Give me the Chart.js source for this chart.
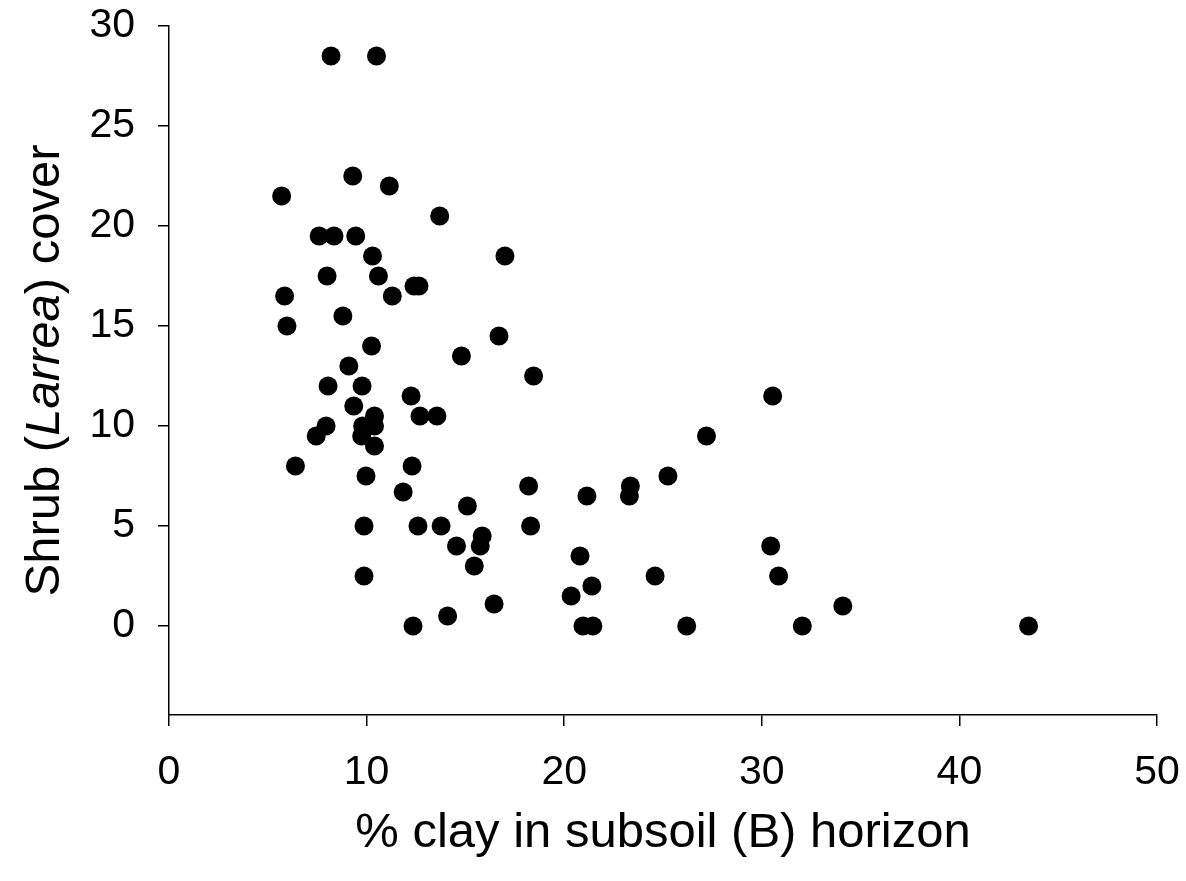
<!DOCTYPE html>
<html>
<head>
<meta charset="utf-8">
<script src="https://cdn.jsdelivr.net/npm/chart.js@4"></script>
<style>
  html, body { margin: 0; padding: 0; background: #fff; }
  #wrap { width: 1186px; height: 881px; }
</style>
</head>
<body>
<div id="wrap"><canvas id="c" width="1186" height="881"></canvas></div>
<script>
// % clay in subsoil (B) horizon
const clayPct = [
  8.2, 10.5, 5.7, 9.3, 11.15, 13.7, 7.6, 8.35, 9.45, 10.3,
  17.0, 8.0, 10.6, 12.4, 12.65, 5.85, 11.3, 5.97, 8.8, 10.25,
  16.7, 14.8, 9.1, 18.45, 8.05, 9.77, 12.25, 30.55, 9.35, 10.4,
  12.7, 13.56, 7.95, 9.8, 10.4, 7.45, 9.75, 27.2, 10.4, 6.4,
  12.3, 9.97, 25.25, 18.2, 23.35, 11.85, 21.15, 23.3, 15.1, 9.87,
  12.6, 13.77, 18.3, 15.85, 14.55, 15.75, 30.45, 20.8, 15.45, 9.87,
  24.6, 30.85, 21.4, 20.35, 16.45, 34.1, 14.1, 12.35, 20.95, 21.45,
  26.2, 32.05, 43.5
];
// Shrub (Larrea) cover
const shrubCover = [
  28.5, 28.5, 21.5, 22.5, 22, 20.5, 19.5, 19.5, 19.5, 18.5,
  18.5, 17.5, 17.5, 17, 17, 16.5, 16.5, 15, 15.5, 14,
  14.5, 13.5, 13, 12.5, 12, 12, 11.5, 11.5, 11, 10.5,
  10.5, 10.5, 10, 10, 10, 9.5, 9.5, 9.5, 9, 8,
  8, 7.5, 7.5, 7, 7, 6.7, 6.5, 6.5, 6, 5,
  5, 5, 5, 4.5, 4, 4, 4, 3.5, 3, 2.5,
  2.5, 2.5, 2, 1.5, 1.1, 1, 0.5, 0, 0, 0,
  0, 0, 0
];
const xTicks = [0, 10, 20, 30, 40, 50];
const yTicks = [0, 5, 10, 15, 20, 25, 30];
const xTitle = "% clay in subsoil (B) horizon";
const yTitleParts = ["Shrub (", "Larrea", ") cover"];

const FONT = "'Liberation Sans', Arial, Helvetica, sans-serif";
const points = clayPct.map((x, i) => ({ x: x, y: shrubCover[i] }));

const yTitlePlugin = {
  id: 'yTitle',
  afterDraw(chart) {
    const ctx = chart.ctx;
    const area = chart.chartArea;
    const size = 49;
    const normal = `normal ${size}px ${FONT}`;
    const italic = `italic ${size}px ${FONT}`;
    const fonts = [normal, italic, normal];
    let widths = yTitleParts.map((t, i) => { ctx.font = fonts[i]; return ctx.measureText(t).width; });
    const total = widths.reduce((a, b) => a + b, 0);
    ctx.save();
    ctx.translate(45, (area.top + area.bottom) / 2);
    ctx.rotate(-Math.PI / 2);
    ctx.fillStyle = '#000';
    ctx.textBaseline = 'middle';
    ctx.textAlign = 'left';
    let x = -total / 2;
    yTitleParts.forEach((t, i) => {
      ctx.font = fonts[i];
      ctx.fillText(t, x, 0);
      x += widths[i];
    });
    ctx.restore();
  }
};

function zeroPad(scale) {
  scale.paddingTop = 0; scale.paddingBottom = 0;
  scale.paddingLeft = 0; scale.paddingRight = 0;
}

new Chart(document.getElementById('c'), {
  type: 'scatter',
  data: {
    datasets: [{
      data: points,
      backgroundColor: '#000',
      borderColor: '#000',
      borderWidth: 0,
      pointRadius: 9.5,
      pointHoverRadius: 9.5
    }]
  },
  options: {
    responsive: false,
    animation: false,
    layout: { padding: { top: 26, right: 29, left: 0, bottom: 0 } },
    plugins: { legend: { display: false }, tooltip: { enabled: false } },
    scales: {
      x: {
        type: 'linear',
        min: 0, max: 50,
        afterBuildTicks(scale) { scale.ticks = xTicks.map(v => ({ value: v })); },
        afterFit(scale) { scale.height = 166; zeroPad(scale); },
        border: { display: true, color: '#000', width: 1.5 },
        grid: { drawOnChartArea: false, drawTicks: true, tickLength: 11, color: '#000', lineWidth: 1.5 },
        ticks: { color: '#000', font: { family: FONT, size: 41 }, padding: 22, maxRotation: 0 },
        title: {
          display: true, text: xTitle, color: '#000',
          font: { family: FONT, size: 49 }, padding: { top: 18, bottom: 18 }
        }
      },
      y: {
        type: 'linear',
        min: -4.45, max: 30,
        afterBuildTicks(scale) { scale.ticks = yTicks.map(v => ({ value: v })); },
        afterFit(scale) { scale.width = 169; zeroPad(scale); },
        border: { display: true, color: '#000', width: 1.5 },
        grid: { drawOnChartArea: false, drawTicks: true, tickLength: 11, color: '#000', lineWidth: 1.5 },
        ticks: { color: '#000', font: { family: FONT, size: 41 }, padding: 23 }
      }
    }
  },
  plugins: [yTitlePlugin]
});
</script>
</body>
</html>
